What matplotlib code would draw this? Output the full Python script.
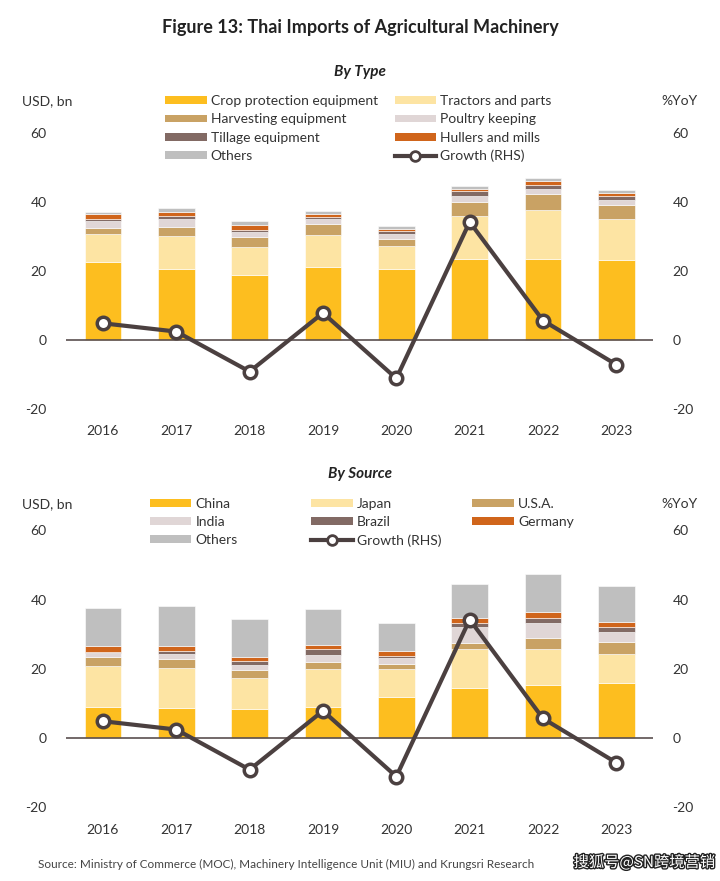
import numpy as np
import matplotlib.pyplot as plt
import matplotlib.patheffects as pe
from matplotlib.lines import Line2D
from matplotlib.patches import Patch

plt.rcParams['font.family'] = ['Lato', 'DejaVu Sans']

years = ["2016", "2017", "2018", "2019", "2020", "2021", "2022", "2023"]

# By type (USD bn)
type_names = ["Crop protection equipment", "Tractors and parts", "Harvesting equipment",
              "Poultry keeping", "Tillage equipment", "Hullers and mills", "Others"]
crop_protection = [22.5, 20.6, 18.9, 21.1, 20.6, 23.5, 23.5, 23.1]
tractors = [8.1, 9.5, 8.1, 9.2, 6.5, 12.4, 14.3, 12.0]
harvesting = [1.9, 2.7, 2.8, 3.3, 2.1, 4.2, 4.5, 3.9]
poultry = [2.1, 2.4, 1.6, 1.35, 1.5, 1.6, 1.6, 1.7]
tillage = [0.6, 0.8, 0.6, 0.6, 0.8, 1.4, 1.15, 1.0]
hullers = [1.35, 1.15, 1.45, 1.0, 0.8, 0.8, 1.05, 0.85]
type_others = [0.6, 1.15, 1.15, 0.85, 0.85, 0.7, 0.95, 0.95]

# By source (USD bn)
source_names = ["China", "Japan", "U.S.A.", "India", "Brazil", "Germany", "Others"]
china = [9.0, 8.7, 8.4, 9.0, 11.7, 14.4, 15.2, 15.8]
japan = [11.7, 11.5, 8.8, 10.9, 8.1, 11.2, 10.5, 8.5]
usa = [2.7, 2.5, 2.4, 2.0, 1.5, 1.7, 3.1, 3.4]
india = [1.15, 1.45, 1.6, 2.1, 1.8, 4.7, 4.3, 2.8]
brazil = [0.3, 1.05, 1.05, 1.7, 0.6, 1.15, 1.45, 1.45]
germany = [1.6, 1.35, 1.25, 1.25, 1.45, 1.55, 1.75, 1.6]
source_others = [11.1, 11.6, 11.0, 10.4, 8.1, 9.9, 11.0, 10.3]

# Growth %YoY
growth = [4.8, 2.4, -9.2, 7.8, -11.2, 34.2, 5.6, -7.2]

colors = ["#FDBE1F", "#FDE4A3", "#C9A264", "#E0D6D6", "#826A64", "#D0651B", "#BFBFBF"]
line_col = "#4B4040"
txt_col = "#333333"

fig = plt.figure(figsize=(7.2, 8.81), dpi=100)

fig.text(0.5, 0.969, "Figure 13: Thai Imports of Agricultural Machinery", ha="center", va="center",
         fontsize=13, fontweight="bold", color="#222222")


def draw_panel(rect, series, names, ncol, col_x, leg_y, subtitle, sub_y):
    ax = fig.add_axes(rect)
    x = np.arange(len(years))
    bottom = np.zeros(len(years))
    for vals, c in zip(series, colors):
        ax.bar(x, vals, 0.5, bottom=bottom, color=c, edgecolor="white", linewidth=0.4, zorder=2)
        bottom += np.array(vals)
    ax.axhline(0, color="#5A4F4F", linewidth=1.2, zorder=3)
    ax.set_xlim(-0.5, 7.5)
    ax.set_ylim(-20, 60)
    ax.set_yticks([-20, 0, 20, 40, 60])
    ax.set_yticklabels(["-20", "0", "20", "40", "60"])
    ax.set_xticks(x)
    ax.set_xticklabels(years)
    for s in ax.spines.values():
        s.set_visible(False)
    ax.tick_params(length=0, labelsize=10, colors=txt_col, pad=12)
    ax.tick_params(axis="y", pad=14)

    ax2 = ax.twinx()
    ax2.plot(x, growth, color=line_col, linewidth=3, marker="o", markersize=9,
             markerfacecolor="white", markeredgecolor=line_col, markeredgewidth=2.5, zorder=4)
    ax2.set_ylim(-20, 60)
    ax2.set_yticks([-20, 0, 20, 40, 60])
    ax2.set_yticklabels(["-20", "0", "20", "40", "60"])
    for s in ax2.spines.values():
        s.set_visible(False)
    ax2.tick_params(length=0, labelsize=10, colors=txt_col, pad=14)

    handles = [Patch(facecolor=c, label=n) for c, n in zip(colors, names)]
    handles.append(Line2D([0], [0], color=line_col, linewidth=3, marker="o", markersize=7,
                          markerfacecolor="white", markeredgecolor=line_col, markeredgewidth=2,
                          label="Growth (RHS)"))
    # one legend per column, filled row-wise like the original
    for c in range(ncol):
        col_handles = handles[c::ncol]
        leg = fig.legend(handles=col_handles, loc="upper left", bbox_to_anchor=(col_x[c], leg_y),
                         frameon=False, fontsize=10, handlelength=3.0, handleheight=0.5,
                         labelspacing=0.45, handletextpad=0.3, borderpad=0, borderaxespad=0)
        for t in leg.get_texts():
            t.set_color(txt_col)

    fig.text(0.5, sub_y, subtitle, ha="center", va="center", fontsize=11,
             fontweight="bold", fontstyle="italic", color="#222222")
    return ax


ax_top = draw_panel([0.092, 0.536, 0.815, 0.313],
                    [crop_protection, tractors, harvesting, poultry, tillage, hullers, type_others],
                    type_names, 2, [0.229, 0.548], 0.892, "By Type", 0.918)
fig.text(0.065, 0.885, "USD, bn", ha="center", va="center", fontsize=10, color=txt_col)
fig.text(0.944, 0.885, "%YoY", ha="center", va="center", fontsize=10, color=txt_col)

ax_bot = draw_panel([0.092, 0.084, 0.815, 0.314],
                    [china, japan, usa, india, brazil, germany, source_others],
                    source_names, 3, [0.208, 0.432, 0.656], 0.435, "By Source", 0.462)
fig.text(0.065, 0.428, "USD, bn", ha="center", va="center", fontsize=10, color=txt_col)
fig.text(0.944, 0.428, "%YoY", ha="center", va="center", fontsize=10, color=txt_col)

fig.text(0.053, 0.019, "Source: Ministry of Commerce (MOC), Machinery Intelligence Unit (MIU) and Krungsri Research",
         ha="left", va="center", fontsize=8.5, color="#444444")
fig.text(0.993, 0.021, "搜狐号@SN跨境营销", ha="right", va="center", fontsize=11,
         family=["Noto Sans CJK SC", "DejaVu Sans"], color="white",
         path_effects=[pe.withStroke(linewidth=2, foreground="#222222")])

fig.savefig("out.png", dpi=100)
